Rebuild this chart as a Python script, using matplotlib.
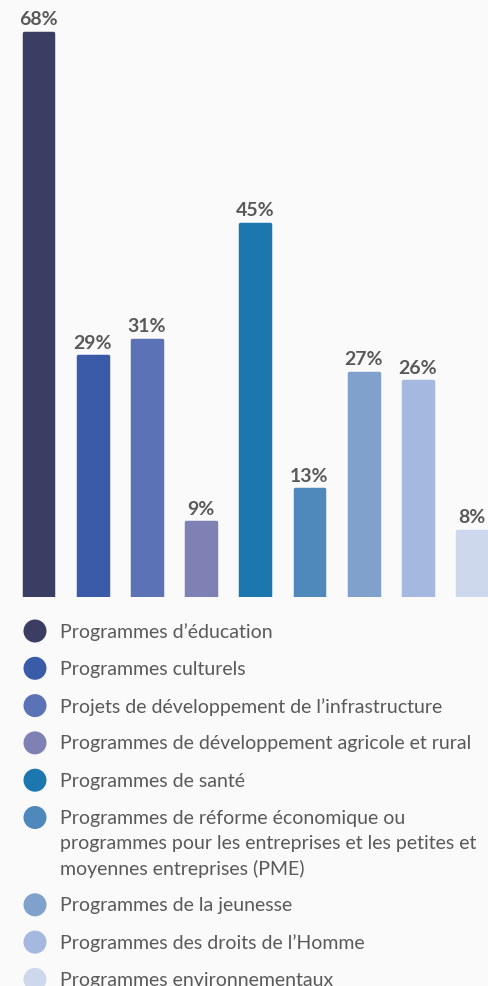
import numpy as np
import matplotlib.pyplot as plt
from matplotlib.patches import Circle

plt.rcParams['font.family'] = ['Lato', 'DejaVu Sans']

# Data
categories = [
    "Programmes d\u2019\u00e9ducation",
    "Programmes culturels",
    "Projets de d\u00e9veloppement de l\u2019infrastructure",
    "Programmes de d\u00e9veloppement agricole et rural",
    "Programmes de sant\u00e9",
    "Programmes de r\u00e9forme \u00e9conomique ou\nprogrammes pour les entreprises et les petites et\nmoyennes entreprises (PME)",
    "Programmes de la jeunesse",
    "Programmes des droits de l\u2019Homme",
    "Programmes environnementaux",
]
values = [68, 29, 31, 9, 45, 13, 27, 26, 8]
colors = ["#3b3d63", "#3a5ba8", "#5b72b6", "#7f80b4", "#1b77ae",
          "#4f88ba", "#7fa1cc", "#a5b8e0", "#cdd8ec"]

W, H = 488, 987
bg = "#fafafa"
txt = "#595959"

fig = plt.figure(figsize=(W / 100, H / 100), dpi=100, facecolor=bg)

# Bar area (bars sit on y=598 px, ~54 px apart)
bottom_px = 598
ax = fig.add_axes([0, 1 - bottom_px / H, 1, bottom_px / H])
ax.set_facecolor(bg)
step = 54.2
x0 = 38.5
ax.set_xlim(-x0 / step, (W - x0) / step)
px_per_unit = 8.3
ax.set_ylim(0, bottom_px / px_per_unit)
ax.axis("off")

x = np.arange(len(values))
ax.bar(x, values, width=0.55, color=colors, edgecolor=colors,
       linewidth=2.5, joinstyle="round")
for xi, v in zip(x, values):
    ax.annotate(f"{v}%", (xi, v), xytext=(0, 4), textcoords="offset points",
                ha="center", va="bottom", fontsize=14, fontweight="bold",
                color=txt)

# Legend drawn in pixel coordinates
lax = fig.add_axes([0, 0, 1, 1], zorder=-1)
lax.set_xlim(0, W)
lax.set_ylim(H, 0)
lax.axis("off")
lax.patch.set_alpha(0)

y = 632
line_h = 25
for cat, c in zip(categories, colors):
    lax.add_patch(Circle((35, y), 11.5, color=c, lw=0))
    lines = cat.split("\n")
    for k, line in enumerate(lines):
        lax.text(60, y + k * line_h, line, fontsize=14, color=txt,
                 va="center", ha="left")
    y += 37.3 + (len(lines) - 1) * line_h

fig.savefig("out.png", dpi=100, facecolor=bg)
